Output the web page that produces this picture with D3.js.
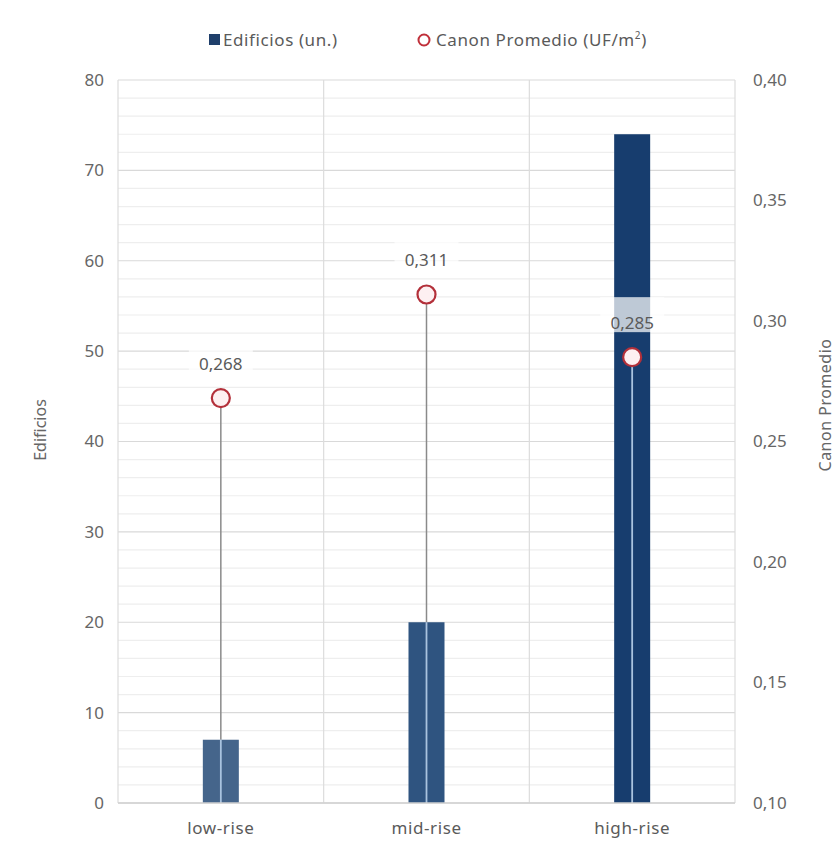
<!DOCTYPE html>
<html><head><meta charset="utf-8">
<script src="https://cdn.jsdelivr.net/npm/d3@7"></script>
<style>body{margin:0;background:#fff;} text{font-family:"Noto Sans","Open Sans",sans-serif;}</style>
</head><body><svg id="c" width="836" height="850"></svg>
<script>
const categories = ["low-rise", "mid-rise", "high-rise"];
const edificios = [7, 20, 74];
const canon = [0.268, 0.311, 0.285];
const canonLabels = ["0,268", "0,311", "0,285"];
const leftTicks = [0, 10, 20, 30, 40, 50, 60, 70, 80];
const rightTicks = [0.10, 0.15, 0.20, 0.25, 0.30, 0.35, 0.40];
const barColors = ["#45658b", "#2f5480", "#173d6e"];

const svg = d3.select("#c");
const L = 118, R = 735, T = 80, B = 803;
const x = d3.scaleBand().domain(categories).range([L, R]);
const yL = d3.scaleLinear().domain([0, 80]).range([B, T]);
const yR = d3.scaleLinear().domain([0.10, 0.40]).range([B, T]);
const fmt = v => d3.format(".2f")(v).replace(".", ",");
const txt = "#5a5a5a";

// minor grid
svg.append("g").selectAll("line").data(d3.range(0, 81, 2)).join("line")
  .attr("x1", L).attr("x2", R).attr("y1", d => yL(d)).attr("y2", d => yL(d))
  .attr("stroke", d => d % 10 === 0 ? "#d9d9d9" : "#eeeeee").attr("stroke-width", 1.2);
// vertical band separators
svg.append("g").selectAll("line").data(categories.concat(["end"])).join("line")
  .attr("x1", (d, i) => L + i * x.bandwidth()).attr("x2", (d, i) => L + i * x.bandwidth())
  .attr("y1", T).attr("y2", B).attr("stroke", "#dcdcdc").attr("stroke-width", 1.2);

// bars
const bw = 36;
svg.append("g").selectAll("rect").data(edificios).join("rect")
  .attr("x", (d, i) => x(categories[i]) + x.bandwidth() / 2 - bw / 2)
  .attr("width", bw)
  .attr("y", d => yL(d)).attr("height", d => B - yL(d))
  .attr("fill", (d, i) => barColors[i]);

// stems
categories.forEach((c, i) => {
  const cx = x(c) + x.bandwidth() / 2;
  const my = yR(canon[i]);
  const barTop = yL(edificios[i]);
  if (barTop > my + 9) {
    svg.append("line").attr("x1", cx).attr("x2", cx).attr("y1", my + 9).attr("y2", barTop)
      .attr("stroke", "#8a8a8a").attr("stroke-width", 1.5);
  }
  svg.append("line").attr("x1", cx).attr("x2", cx).attr("y1", Math.max(barTop, my + 9)).attr("y2", B)
    .attr("stroke", "#a9c3df").attr("stroke-width", 1.8);
});

// data labels
categories.forEach((c, i) => {
  const cx = x(c) + x.bandwidth() / 2;
  const my = yR(canon[i]);
  svg.append("rect").attr("x", cx - 32).attr("y", my - 60).attr("width", 64).attr("height", 35)
    .attr("fill", "#fff").attr("opacity", 0.72);
  svg.append("text").attr("x", cx).attr("y", my - 28).attr("text-anchor", "middle")
    .attr("font-size", 17).attr("fill", txt).text(canonLabels[i]);
});

// markers
svg.append("g").selectAll("circle").data(canon).join("circle")
  .attr("cx", (d, i) => x(categories[i]) + x.bandwidth() / 2)
  .attr("cy", d => yR(d)).attr("r", 9)
  .attr("fill", "#fdf0f1").attr("stroke", "#b3303a").attr("stroke-width", 2.2);

// axes lines
svg.append("line").attr("x1", L).attr("x2", R).attr("y1", B).attr("y2", B).attr("stroke", "#d0d0d0").attr("stroke-width", 1.5);

// left axis
const gl = svg.append("g").attr("transform", `translate(${L},0)`)
  .call(d3.axisLeft(yL).tickValues(leftTicks).tickSize(0).tickPadding(14));
gl.select(".domain").remove();
gl.selectAll("text").attr("font-size", 17).attr("fill", "#666").attr("font-family", "Noto Sans");

// right axis
const gr = svg.append("g").attr("transform", `translate(${R},0)`)
  .call(d3.axisRight(yR).tickValues(rightTicks).tickFormat(fmt).tickSize(0).tickPadding(18));
gr.select(".domain").remove();
gr.selectAll("text").attr("font-size", 17).attr("fill", "#666").attr("font-family", "Noto Sans");

// bottom axis
const gb = svg.append("g").attr("transform", `translate(0,${B})`)
  .call(d3.axisBottom(x).tickSize(0).tickPadding(19));
gb.select(".domain").remove();
gb.selectAll("text").attr("font-size", 17).attr("fill", txt).attr("font-family", "Noto Sans").attr("letter-spacing", 0.6);

// axis titles
svg.append("text").attr("transform", "translate(46,430) rotate(-90)").attr("text-anchor", "middle")
  .attr("font-size", 16).attr("fill", "#666").text("Edificios");
svg.append("text").attr("transform", "translate(831,405) rotate(-90)").attr("text-anchor", "middle")
  .attr("font-size", 16).attr("fill", "#666").attr("letter-spacing", 0.5).text("Canon Promedio");

// legend
svg.append("rect").attr("x", 209).attr("y", 34).attr("width", 11).attr("height", 11).attr("fill", "#1f3f6b");
svg.append("text").attr("x", 223).attr("y", 46).attr("font-size", 17).attr("fill", txt).attr("letter-spacing", 0.6).text("Edificios (un.)");
svg.append("circle").attr("cx", 424).attr("cy", 40).attr("r", 5.5).attr("fill", "#fff").attr("stroke", "#c0303a").attr("stroke-width", 2);
const lt = svg.append("text").attr("x", 436).attr("y", 46).attr("font-size", 17).attr("fill", txt).attr("letter-spacing", 0.6);
lt.append("tspan").text("Canon Promedio (UF/m");
lt.append("tspan").attr("font-size", 10).attr("dy", -7).text("2");
lt.append("tspan").attr("dy", 7).text(")");
</script></body></html>
